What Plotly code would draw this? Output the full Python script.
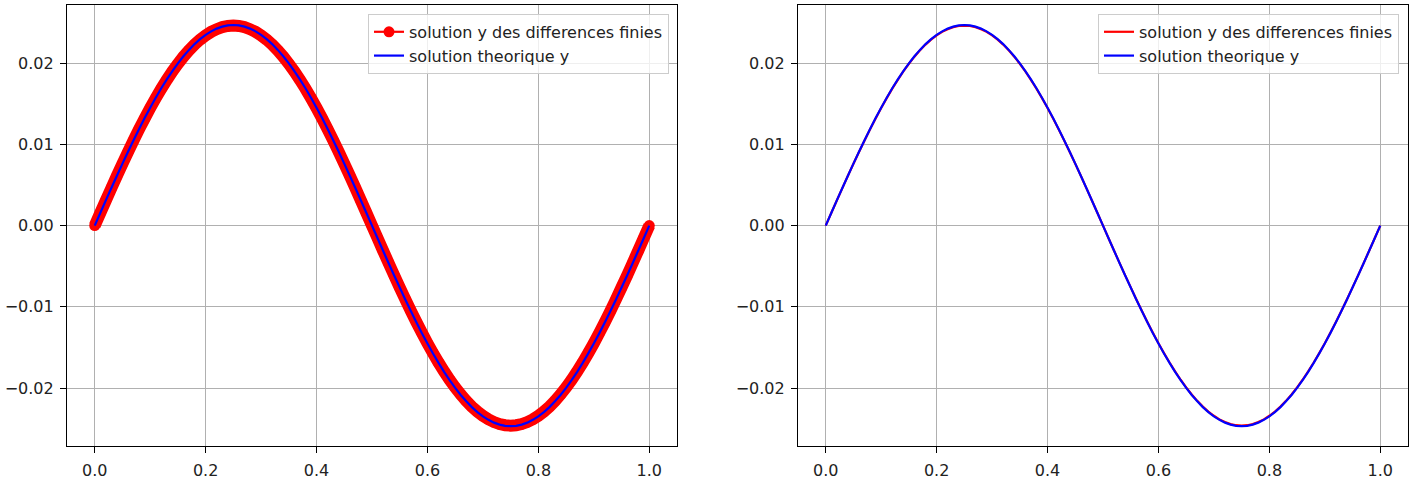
import plotly.graph_objects as go

x_vals = [0.00, 0.01, 0.02, 0.03, 0.04, 0.05, 0.06, 0.07, 0.08, 0.09,
          0.10, 0.11, 0.12, 0.13, 0.14, 0.15, 0.16, 0.17, 0.18, 0.19,
          0.20, 0.21, 0.22, 0.23, 0.24, 0.25, 0.26, 0.27, 0.28, 0.29,
          0.30, 0.31, 0.32, 0.33, 0.34, 0.35, 0.36, 0.37, 0.38, 0.39,
          0.40, 0.41, 0.42, 0.43, 0.44, 0.45, 0.46, 0.47, 0.48, 0.49,
          0.50, 0.51, 0.52, 0.53, 0.54, 0.55, 0.56, 0.57, 0.58, 0.59,
          0.60, 0.61, 0.62, 0.63, 0.64, 0.65, 0.66, 0.67, 0.68, 0.69,
          0.70, 0.71, 0.72, 0.73, 0.74, 0.75, 0.76, 0.77, 0.78, 0.79,
          0.80, 0.81, 0.82, 0.83, 0.84, 0.85, 0.86, 0.87, 0.88, 0.89,
          0.90, 0.91, 0.92, 0.93, 0.94, 0.95, 0.96, 0.97, 0.98, 0.99,
          1.00]

# theoretical solution (blue)
y_theo = [0.0, 0.00155, 0.00310, 0.00463, 0.00614, 0.00763, 0.00909, 0.01052, 0.01190, 0.01324,
          0.01452, 0.01574, 0.01691, 0.01801, 0.01903, 0.01998, 0.02085, 0.02164, 0.02235, 0.02297,
          0.02349, 0.02392, 0.02426, 0.02450, 0.02465, 0.02470, 0.02465, 0.02450, 0.02426, 0.02392,
          0.02349, 0.02297, 0.02235, 0.02164, 0.02085, 0.01998, 0.01903, 0.01801, 0.01691, 0.01574,
          0.01452, 0.01324, 0.01190, 0.01052, 0.00909, 0.00763, 0.00614, 0.00463, 0.00310, 0.00155,
          0.0, -0.00155, -0.00310, -0.00463, -0.00614, -0.00763, -0.00909, -0.01052, -0.01190, -0.01324,
          -0.01452, -0.01574, -0.01691, -0.01801, -0.01903, -0.01998, -0.02085, -0.02164, -0.02235, -0.02297,
          -0.02349, -0.02392, -0.02426, -0.02450, -0.02465, -0.02470, -0.02465, -0.02450, -0.02426, -0.02392,
          -0.02349, -0.02297, -0.02235, -0.02164, -0.02085, -0.01998, -0.01903, -0.01801, -0.01691, -0.01574,
          -0.01452, -0.01324, -0.01190, -0.01052, -0.00909, -0.00763, -0.00614, -0.00463, -0.00310, -0.00155,
          0.0]

# finite-difference solution (red)
y_fd = [0.0, 0.00155, 0.00309, 0.00462, 0.00613, 0.00761, 0.00907, 0.01049, 0.01187, 0.01320,
        0.01448, 0.01570, 0.01686, 0.01795, 0.01898, 0.01993, 0.02080, 0.02158, 0.02229, 0.02290,
        0.02342, 0.02386, 0.02419, 0.02444, 0.02458, 0.02463, 0.02458, 0.02444, 0.02419, 0.02386,
        0.02342, 0.02290, 0.02229, 0.02158, 0.02080, 0.01993, 0.01898, 0.01795, 0.01686, 0.01570,
        0.01448, 0.01320, 0.01187, 0.01049, 0.00907, 0.00761, 0.00613, 0.00462, 0.00309, 0.00155,
        0.0, -0.00155, -0.00309, -0.00462, -0.00613, -0.00761, -0.00907, -0.01049, -0.01187, -0.01320,
        -0.01448, -0.01570, -0.01686, -0.01795, -0.01898, -0.01993, -0.02080, -0.02158, -0.02229, -0.02290,
        -0.02342, -0.02386, -0.02419, -0.02444, -0.02458, -0.02463, -0.02458, -0.02444, -0.02419, -0.02386,
        -0.02342, -0.02290, -0.02229, -0.02158, -0.02080, -0.01993, -0.01898, -0.01795, -0.01686, -0.01570,
        -0.01448, -0.01320, -0.01187, -0.01049, -0.00907, -0.00761, -0.00613, -0.00462, -0.00309, -0.00155,
        0.0]

x_ticks = [0.0, 0.2, 0.4, 0.6, 0.8, 1.0]
y_ticks = [-0.02, -0.01, 0.0, 0.01, 0.02]

label_fd = "solution y des differences finies"
label_th = "solution theorique y"

RED = "#ff0000"
BLUE = "#0000ff"
FONT = "DejaVu Sans"
FS = 16

fig = go.Figure()

# left panel: dense marker band (thick line underneath to fill gaps between markers)
fig.add_trace(go.Scatter(x=x_vals, y=y_fd, mode="lines", line=dict(color=RED, width=12, simplify=False),
                         showlegend=False, hoverinfo="skip", xaxis="x", yaxis="y"))
fig.add_trace(go.Scatter(x=x_vals, y=y_fd, mode="lines+markers", name=label_fd,
                         line=dict(color=RED, width=2.2, simplify=False), marker=dict(color=RED, size=11),
                         legend="legend", xaxis="x", yaxis="y"))
fig.add_trace(go.Scatter(x=x_vals, y=y_theo, mode="lines", name=label_th,
                         line=dict(color=BLUE, width=2.2, simplify=False), legend="legend",
                         xaxis="x", yaxis="y"))

# right panel
fig.add_trace(go.Scatter(x=x_vals, y=y_fd, mode="lines", name=label_fd,
                         line=dict(color=RED, width=2.2, simplify=False), legend="legend2",
                         xaxis="x2", yaxis="y2"))
fig.add_trace(go.Scatter(x=x_vals, y=y_theo, mode="lines", name=label_th,
                         line=dict(color=BLUE, width=2.2, simplify=False), legend="legend2",
                         xaxis="x2", yaxis="y2"))

W, H = 1416, 480
xdom1 = [67 / W, 677 / W]
xdom2 = [798 / W, 1408 / W]
ydom = [30 / H, 475 / H]

axis_common = dict(showline=True, linecolor="#000000", linewidth=1.2, mirror=True,
                   ticks="outside", ticklen=6, tickwidth=1.2, tickcolor="#000000",
                   ticklabelstandoff=3,
                   showgrid=True, gridcolor="#b0b0b0", gridwidth=1.2, zeroline=False,
                   tickfont=dict(family=FONT, size=FS, color="#222222"))

xr = [-0.05, 1.05]
yr = [-0.02717, 0.02717]

legend_common = dict(xanchor="right", yanchor="top",
                     bgcolor="rgba(255,255,255,0.8)", bordercolor="#cccccc", borderwidth=1,
                     font=dict(family=FONT, size=FS, color="#222222"), tracegroupgap=0,
                     itemwidth=30)

fig.update_layout(
    width=W, height=H,
    margin=dict(l=0, r=0, t=0, b=0),
    paper_bgcolor="white", plot_bgcolor="white",
    font=dict(family=FONT, size=FS, color="#222222"),
    xaxis=dict(domain=xdom1, range=xr, tickvals=x_ticks, tickformat=".1f", anchor="y", **axis_common),
    yaxis=dict(domain=ydom, range=yr, tickvals=y_ticks, tickformat=".2f", anchor="x", **axis_common),
    xaxis2=dict(domain=xdom2, range=xr, tickvals=x_ticks, tickformat=".1f", anchor="y2", **axis_common),
    yaxis2=dict(domain=ydom, range=yr, tickvals=y_ticks, tickformat=".2f", anchor="x2", **axis_common),
    legend=dict(x=669 / W, y=1 - 14 / H, **legend_common),
    legend2=dict(x=1399 / W, y=1 - 14 / H, **legend_common),
)

fig.write_html("out.html", config={"displayModeBar": False},
               post_script="document.body.style.margin='0';document.body.style.overflow='hidden';")
